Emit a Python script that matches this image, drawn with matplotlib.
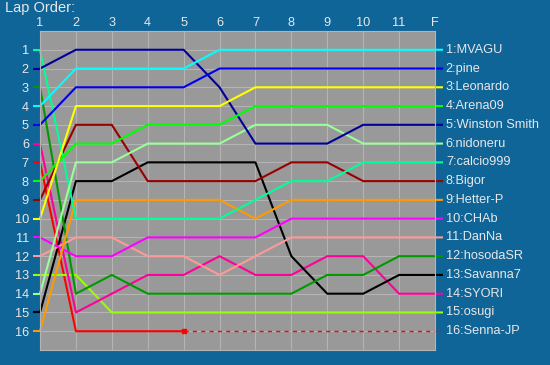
import matplotlib
matplotlib.use("Agg")
import matplotlib.pyplot as plt

# lap columns (last one is the finish)
laps = ["1", "2", "3", "4", "5", "6", "7", "8", "9", "10", "11", "F"]

# drivers in finishing order
names = ["MVAGU", "pine", "Leonardo", "Arena09", "Winston Smith", "nidoneru",
         "calcio999", "Bigor", "Hetter-P", "CHAb", "DanNa", "hosodaSR",
         "Savanna7", "SYORI", "osugi", "Senna-JP"]
colors = ["#00ffff", "#0000ee", "#ffff00", "#00ff00", "#000099", "#99ff99",
          "#00ff99", "#990000", "#ff9900", "#ff00ff", "#ff9999", "#009900",
          "#000000", "#ff0099", "#99ff00", "#ff0000"]

# position of each driver at each lap column
pos_mvagu = [4, 2, 2, 2, 2, 1, 1, 1, 1, 1, 1, 1]
pos_pine = [5, 3, 3, 3, 3, 2, 2, 2, 2, 2, 2, 2]
pos_leonardo = [10, 4, 4, 4, 4, 4, 3, 3, 3, 3, 3, 3]
pos_arena09 = [8, 6, 6, 5, 5, 5, 4, 4, 4, 4, 4, 4]
pos_winston = [2, 1, 1, 1, 1, 3, 6, 6, 6, 5, 5, 5]
pos_nidoneru = [14, 7, 7, 6, 6, 6, 5, 5, 5, 6, 6, 6]
pos_calcio = [1, 10, 10, 10, 10, 10, 9, 8, 8, 7, 7, 7]
pos_bigor = [9, 5, 5, 8, 8, 8, 8, 7, 7, 8, 8, 8]
pos_hetter = [16, 9, 9, 9, 9, 9, 10, 9, 9, 9, 9, 9]
pos_chab = [11, 12, 12, 11, 11, 11, 11, 10, 10, 10, 10, 10]
pos_danna = [12, 11, 11, 12, 12, 13, 12, 11, 11, 11, 11, 11]
pos_hosoda = [3, 14, 13, 14, 14, 14, 14, 14, 13, 13, 12, 12]
pos_savanna = [15, 8, 8, 7, 7, 7, 7, 12, 14, 14, 13, 13]
pos_syori = [6, 15, 14, 13, 13, 12, 13, 13, 12, 12, 14, 14]
pos_osugi = [13, 13, 15, 15, 15, 15, 15, 15, 15, 15, 15, 15]
pos_senna = [7, 16, 16, 16, 16, 16, 16, 16, 16, 16, 16, 16]
senna_out_lap = 5  # retired here, dashed afterwards

positions = [pos_mvagu, pos_pine, pos_leonardo, pos_arena09, pos_winston,
             pos_nidoneru, pos_calcio, pos_bigor, pos_hetter, pos_chab,
             pos_danna, pos_hosoda, pos_savanna, pos_syori, pos_osugi,
             pos_senna]

BG = "#0f6498"
PLOT = "#999999"
TXT = "#e8e8e8"

fig = plt.figure(figsize=(5.5, 3.65), dpi=100, facecolor=BG)
ax = fig.add_axes([40 / 550, 1 - 350 / 365, 395 / 550, 319 / 365])
ax.set_facecolor(PLOT)

x = list(range(1, len(laps) + 1))
x_left = 1 - 7 / 35.9
x_right = len(laps) + 8 / 35.9

# draw from last to first so the leaders end up on top
for i in range(len(names) - 1, -1, -1):
    p = positions[i]
    c = colors[i]
    # short stub outside the plot at the start position
    ax.plot([x_left, 1], [p[0], p[0]], color=c, lw=1.5, clip_on=False,
            solid_capstyle="butt")
    if names[i] == "Senna-JP":
        k = senna_out_lap
        ax.plot(x[:k], p[:k], color=c, lw=1.5)
        ax.plot([x[k - 1]], [p[k - 1]], marker="s", ms=3, color=c)
        ax.plot(x[k - 1:] + [x_right], p[k - 1:] + [p[-1]], color=c, lw=1,
                ls=(0, (3, 3)), clip_on=False)
    else:
        ax.plot(x + [x_right], p + [p[-1]], color=c, lw=1.5, clip_on=False,
                solid_capstyle="butt")
    ax.text(x_right + 0.08, p[-1], f"{i + 1}:{names[i]}", color=TXT,
            fontsize=9.2, family="Liberation Sans", va="center", ha="left")

ax.set_xlim(1, len(laps))
ax.set_ylim(17, 0)
ax.set_xticks(x)
ax.set_xticklabels(laps)
ax.set_yticks(range(1, 17))
ax.xaxis.tick_top()
ax.tick_params(axis="x", length=0, pad=1.5, colors=TXT, labelsize=9.2)
ax.tick_params(axis="y", length=0, pad=8, colors=TXT, labelsize=9.2)
for lab in ax.get_xticklabels() + ax.get_yticklabels():
    lab.set_family("Liberation Sans")
ax.grid(True, color="#b4b4b4", lw=0.8)
ax.set_axisbelow(True)
for s in ax.spines.values():
    s.set_color("#b4b4b4")
    s.set_linewidth(0.8)

fig.text(5 / 550, 1 - 8 / 365, "Lap Order:", color=TXT, fontsize=10.5,
         family="Liberation Sans", va="center", ha="left")

fig.savefig("out.png", dpi=100, facecolor=BG)
